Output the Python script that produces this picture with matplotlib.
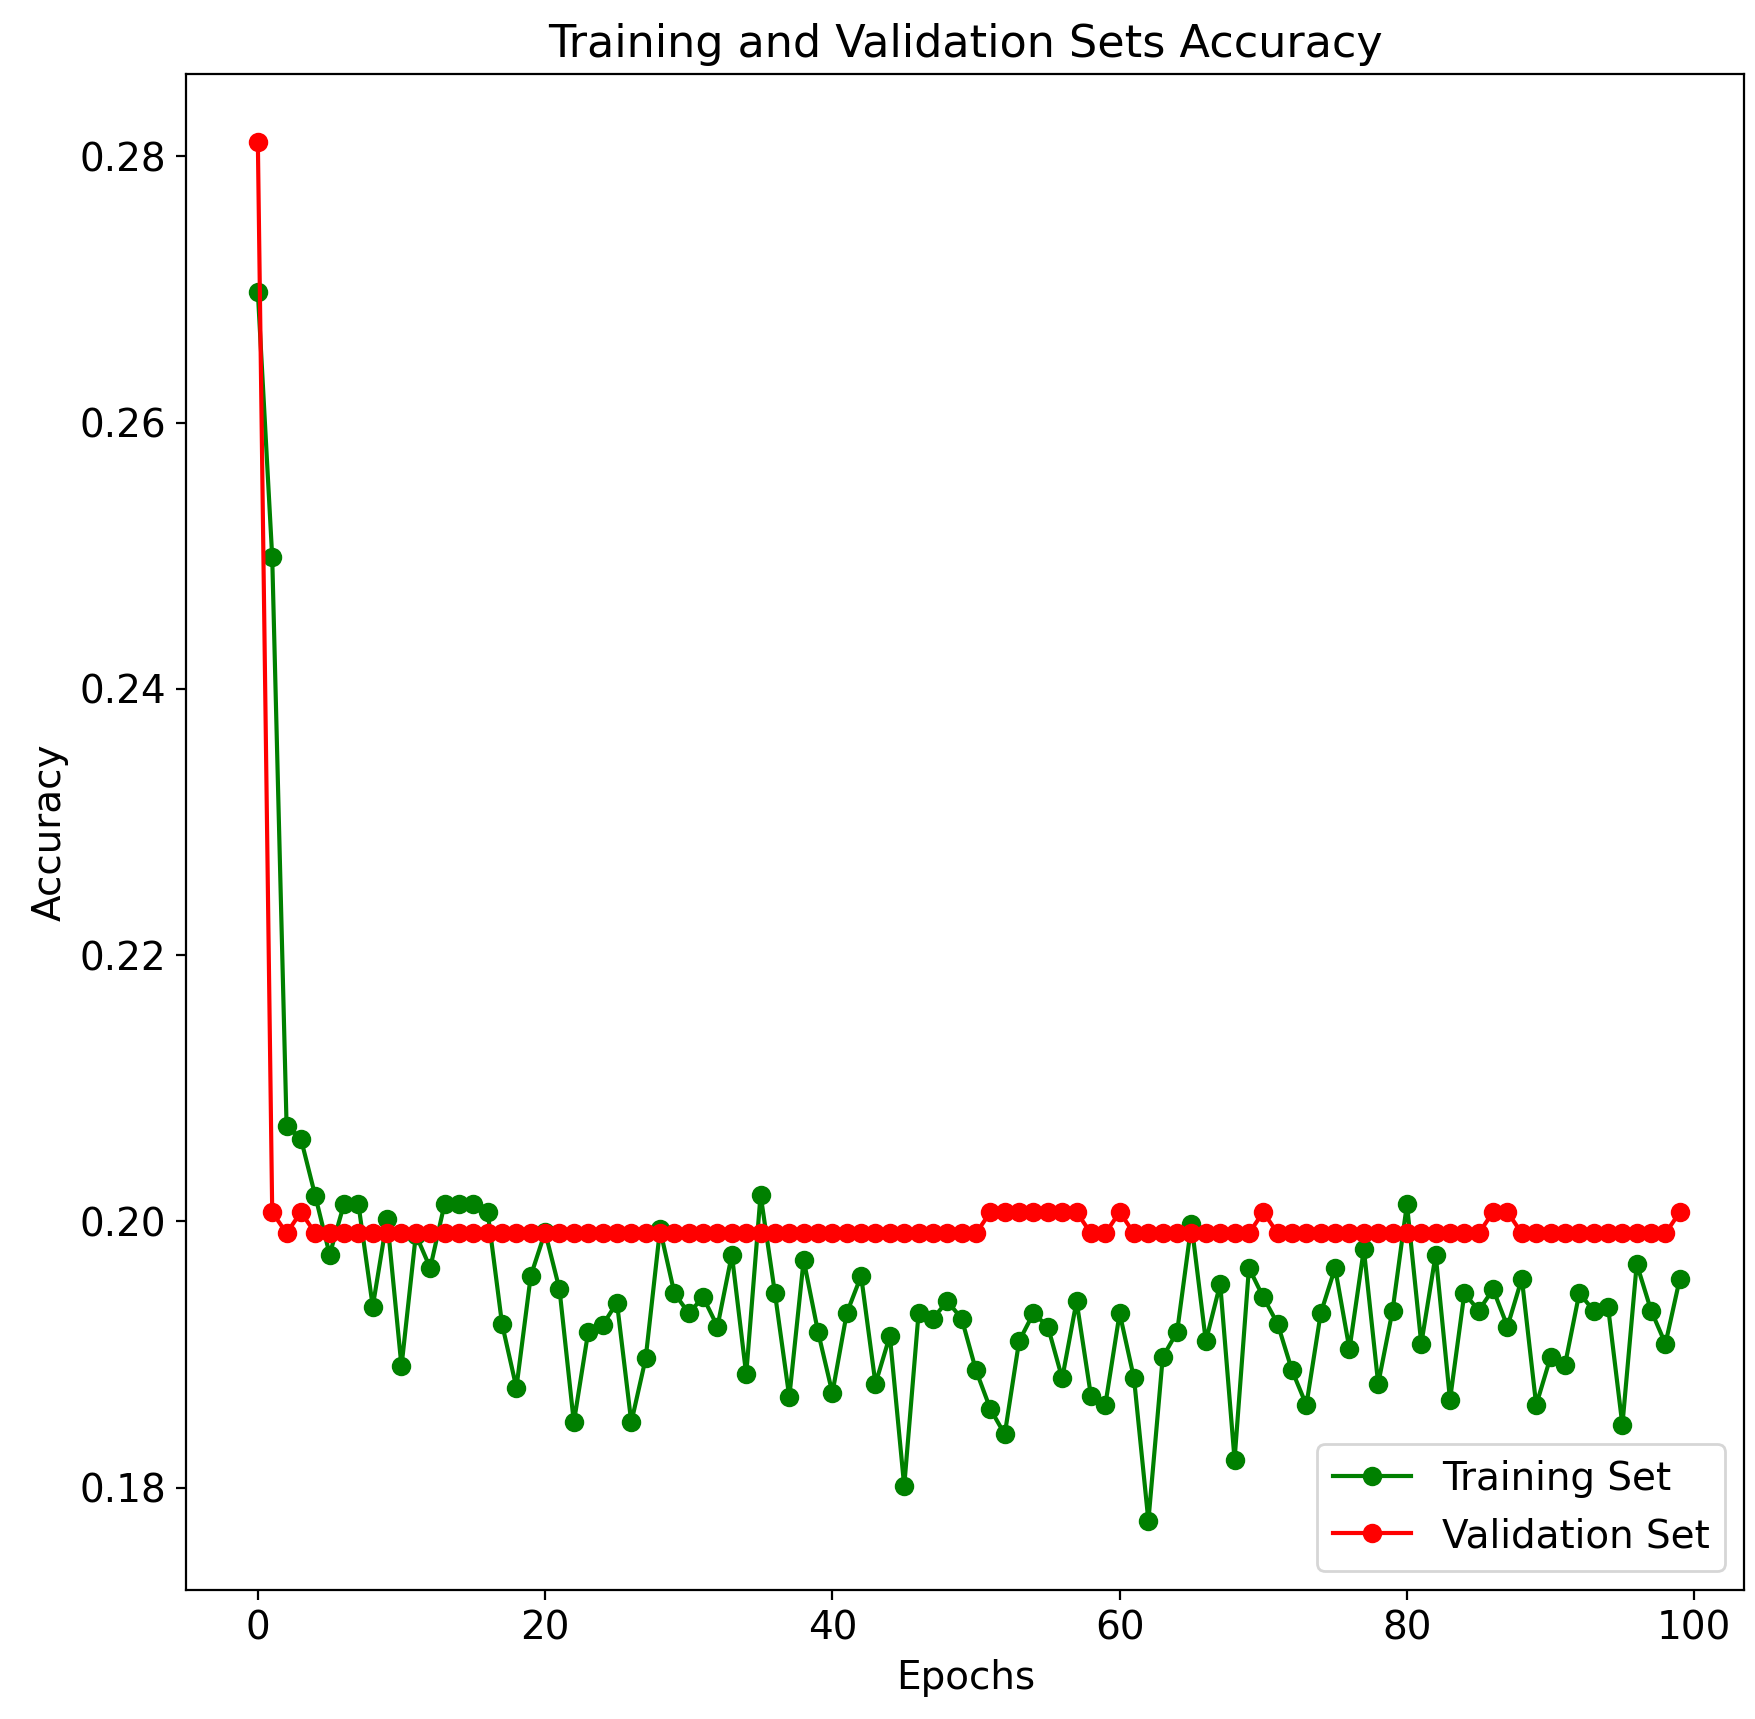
import matplotlib
matplotlib.use('Agg')
import matplotlib.pyplot as plt
import numpy as np

epochs = np.arange(100)

train_acc = [
    0.2698, 0.2499, 0.2072, 0.2062, 0.2019, 0.1975, 0.2013, 0.2013, 0.1936, 0.2002,
    0.1891, 0.1990, 0.1965, 0.2013, 0.2013, 0.2013, 0.2007, 0.1923, 0.1875, 0.1959,
    0.1992, 0.1949, 0.1849, 0.1917, 0.1922, 0.1939, 0.1849, 0.1897, 0.1994, 0.1946,
    0.1931, 0.1943, 0.1921, 0.1975, 0.1885, 0.2020, 0.1946, 0.1868, 0.1971, 0.1917,
    0.1871, 0.1931, 0.1959, 0.1878, 0.1914, 0.1801, 0.1931, 0.1927, 0.1940, 0.1927,
    0.1888, 0.1859, 0.1840, 0.1910, 0.1931, 0.1921, 0.1882, 0.1940, 0.1869, 0.1862,
    0.1931, 0.1882, 0.1775, 0.1898, 0.1917, 0.1998, 0.1910, 0.1953, 0.1821, 0.1965,
    0.1943, 0.1923, 0.1888, 0.1862, 0.1931, 0.1965, 0.1904, 0.1979, 0.1878, 0.1933,
    0.2013, 0.1908, 0.1975, 0.1866, 0.1946, 0.1933, 0.1949, 0.1921, 0.1957, 0.1862,
    0.1898, 0.1892, 0.1946, 0.1933, 0.1936, 0.1847, 0.1968, 0.1933, 0.1908, 0.1957,
]

lo, hi = 0.1991, 0.2007
val_acc = ([0.2811, hi, lo, hi] + [lo] * 47 + [hi] * 7 + [lo, lo, hi] + [lo] * 9
           + [hi] + [lo] * 15 + [hi, hi] + [lo] * 11 + [hi])

fig = plt.figure(figsize=(8.775, 8.595), dpi=200)
ax = fig.add_axes([0.106, 0.075, 0.888, 0.882])
ax.plot(epochs, train_acc, color='green', marker='o', markersize=6, label='Training Set')
ax.plot(epochs, val_acc, color='red', marker='o', markersize=6, label='Validation Set')
ax.set_ylim(0.1723, 0.2862)
ax.set_xlim(-5, 103.5)
ax.set_title('Training and Validation Sets Accuracy', fontsize=16)
ax.set_xlabel('Epochs', fontsize=14)
ax.set_ylabel('Accuracy', fontsize=14)
ax.tick_params(labelsize=14)
ax.legend(loc='lower right', fontsize=14)
fig.savefig('out.png')
